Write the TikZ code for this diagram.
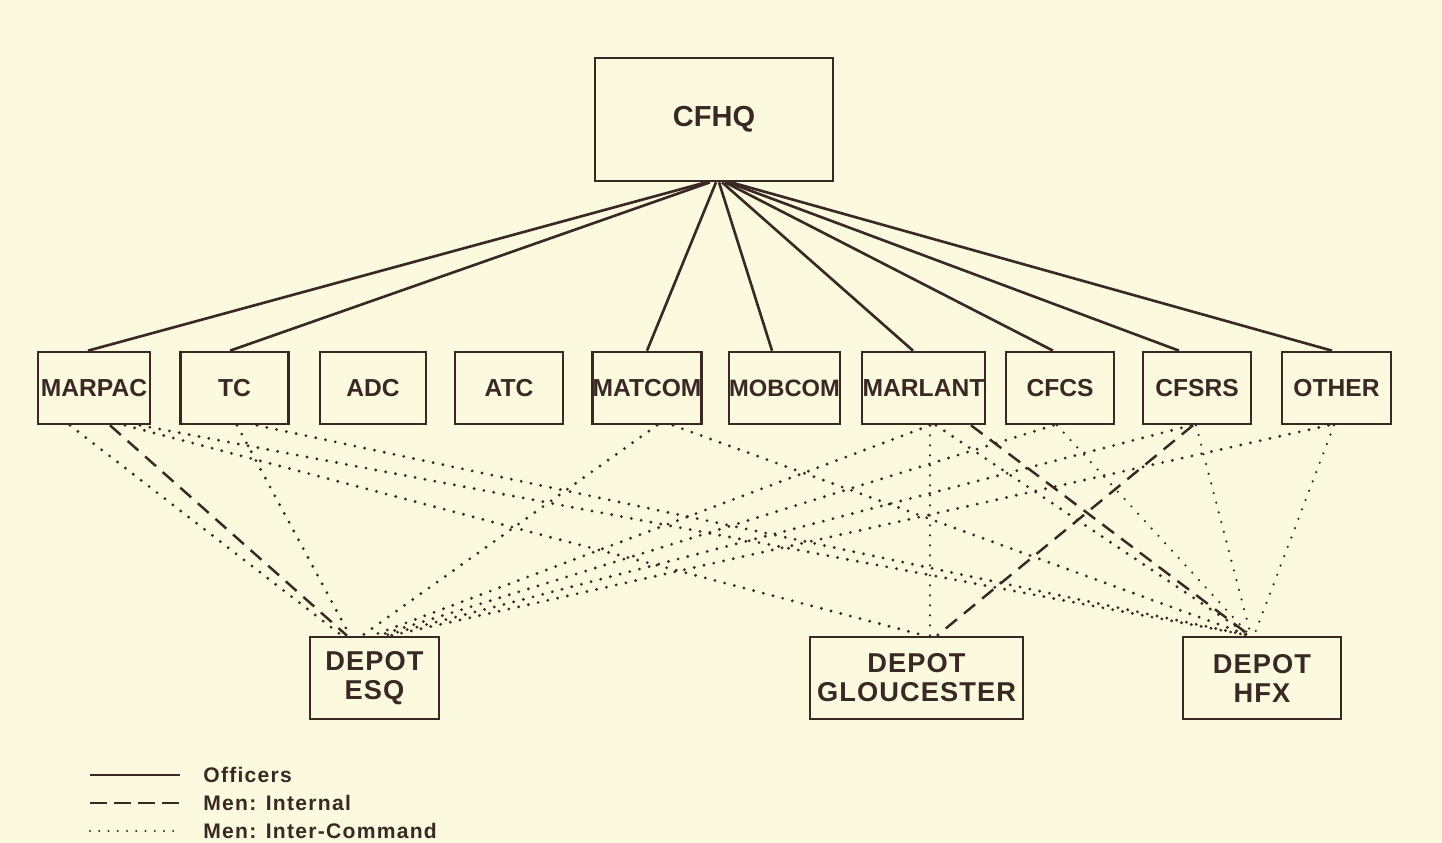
\documentclass[tikz,border=0pt]{standalone}
\usepackage{fontspec}
\setmainfont{Liberation Sans}
\newfontfamily\legendfont{Liberation Sans}[LetterSpace=6]
\newfontfamily\depotfamily{Liberation Sans}[LetterSpace=4]
\definecolor{paper}{RGB}{252,250,222}
\definecolor{ink}{RGB}{58,40,36}
\newcommand{\unitfont}{\fontsize{14}{16}\selectfont\bfseries}
\newcommand{\hqfont}{\fontsize{16.5}{18}\selectfont\bfseries}
\newcommand{\depotfont}{\depotfamily\fontsize{15.5}{16.5}\selectfont\bfseries}
\tikzset{
  unitbox/.style={draw=ink, text=ink, line width=1.5pt, minimum width=21.6mm, minimum height=14.4mm, inner sep=0pt, font=\unitfont},
  depotbox/.style={unitbox, minimum height=16.4mm, align=center, font=\depotfont},
  officers/.style={draw=ink, line width=1.5pt},
  internal/.style={draw=ink, line width=1.4pt, dash pattern=on 2.9mm off 1.8mm},
  intercmd/.style={draw=ink, line width=1.8pt, line cap=round, dash pattern=on 0pt off 2mm},
  legendtext/.style={anchor=west, inner sep=0pt, text=ink, font=\legendfont\bfseries\fontsize{12}{14}\selectfont}
}

\begin{document}
\begin{tikzpicture}[x=0.2mm, y=-0.2mm]
\useasboundingbox (0,0) rectangle (1442,843);
\fill[paper] (0,0) rectangle (1442,843);

\node (cfhq) at (714,119.5) [unitbox, minimum width=47.6mm, minimum height=24.6mm, font=\hqfont] {CFHQ};

\node (marpac) at (94,388) [unitbox, minimum width=22.4mm] {MARPAC};
\node (tc) at (234.5,388) [unitbox] {TC};
\node (adc) at (373,388) [unitbox, minimum width=21.2mm] {ADC};
\node (atc) at (509,388) [unitbox] {ATC};
\node (matcom) at (647,388) [unitbox] {MATCOM};
\node (mobcom) at (784.5,388) [unitbox, minimum width=21.4mm, font=\fontsize{13.5}{16}\selectfont\bfseries] {MOBCOM};
\node (marlant) at (923.5,388) [unitbox, minimum width=24.6mm] {MARLANT};
\node (cfcs) at (1060,388) [unitbox] {CFCS};
\node (cfsrs) at (1197,388) [unitbox] {CFSRS};
\node (other) at (1336.5,388) [unitbox, minimum width=21.8mm] {OTHER};

\node (esq) at (374.5,678) [depotbox, minimum width=25.8mm] {DEPOT\\ESQ};
\node (glou) at (916.5,678) [depotbox, minimum width=42.6mm] {DEPOT\\GLOUCESTER};
\node (hfx) at (1262,678) [depotbox, minimum width=31.6mm] {DEPOT\\HFX};

% officers, from CFHQ
\draw [officers] ([xshift=-1.6mm]cfhq.south) -- ([xshift=-1.2mm]marpac.north);
\draw [officers] ([xshift=-0.8mm]cfhq.south) -- ([xshift=-0.9mm]tc.north);
\draw [officers] ([xshift=0.4mm]cfhq.south) -- (matcom.north);
\draw [officers] ([xshift=1mm]cfhq.south) -- ([xshift=-2.5mm]mobcom.north);
\draw [officers] ([xshift=1.6mm]cfhq.south) -- ([xshift=-2.1mm]marlant.north);
\draw [officers] ([xshift=2.2mm]cfhq.south) -- ([xshift=-1.4mm]cfcs.north);
\draw [officers] ([xshift=2.8mm]cfhq.south) -- ([xshift=-3.6mm]cfsrs.north);
\draw [officers] ([xshift=3.4mm]cfhq.south) -- ([xshift=-0.9mm]other.north);

% men, internal
\draw [internal] ([xshift=3.2mm]marpac.south) -- ([xshift=-5.5mm]esq.north);
\draw [internal] ([xshift=9.5mm]marlant.south) -- ([xshift=-2.4mm]hfx.north);
\draw [internal] ([xshift=-0.8mm]cfsrs.south) -- ([xshift=4.1mm]glou.north);

% men, inter-command
\draw [intercmd] ([xshift=-4.8mm]marpac.south) -- ([xshift=-6.5mm]esq.north);
\draw [intercmd] ([xshift=6.2mm]marpac.south) -- ([xshift=1.7mm]glou.north);
\draw [intercmd] ([xshift=9.2mm]marpac.south) -- ([xshift=-2.4mm]hfx.north);
\draw [intercmd] ([xshift=0.5mm]tc.south) -- ([xshift=-4.9mm]esq.north);
\draw [intercmd] ([xshift=4.5mm]tc.south) -- ([xshift=-2.4mm]hfx.north);
\draw [intercmd] ([xshift=2mm]matcom.south) -- ([xshift=-2.5mm]esq.north);
\draw [intercmd] ([xshift=5.2mm]matcom.south) -- ([xshift=-2.4mm]hfx.north);
\draw [intercmd] ([xshift=1.3mm]marlant.south) -- ([xshift=-0.5mm]esq.north);
\draw [intercmd, line width=1.4pt] ([xshift=1.3mm]marlant.south) -- ([xshift=2.7mm]glou.north);
\draw [intercmd] ([xshift=2.5mm]marlant.south) -- ([xshift=-2.4mm]hfx.north);
\draw [intercmd] ([xshift=-1.3mm]cfcs.south) -- ([xshift=0.7mm]esq.north);
\draw [intercmd, line width=1.4pt] ([xshift=-0.6mm]cfcs.south) -- ([xshift=-2.4mm]hfx.north);
\draw [intercmd] ([xshift=-1.2mm]cfsrs.south) -- ([xshift=1.9mm]esq.north);
\draw [intercmd, line width=1.4pt] ([xshift=-0.2mm]cfsrs.south) -- ([xshift=-2.2mm]hfx.north);
\draw [intercmd] ([xshift=-1.6mm]other.south) -- ([xshift=3.1mm]esq.north);
\draw [intercmd, line width=1.4pt] ([xshift=-0.5mm]other.south) -- ([xshift=-1.6mm]hfx.north);

% legend
\node (legoff) at (203,775) [legendtext] {Officers};
\node (legint) at (203,803) [legendtext] {Men: Internal};
\node (legcmd) at (203,831) [legendtext] {Men: Inter-Command};
\draw [officers] ([xshift=-22.6mm]legoff.west) -- ([xshift=-4.6mm]legoff.west);
\draw [internal, dash pattern=on 3.4mm off 1.4mm] ([xshift=-22.6mm]legint.west) -- ([xshift=-4.6mm]legint.west);
\draw [intercmd, line width=1.4pt, dash pattern=on 0pt off 1.85mm] ([xshift=-22.6mm]legcmd.west) -- ([xshift=-4.6mm]legcmd.west);
\end{tikzpicture}
\end{document}
